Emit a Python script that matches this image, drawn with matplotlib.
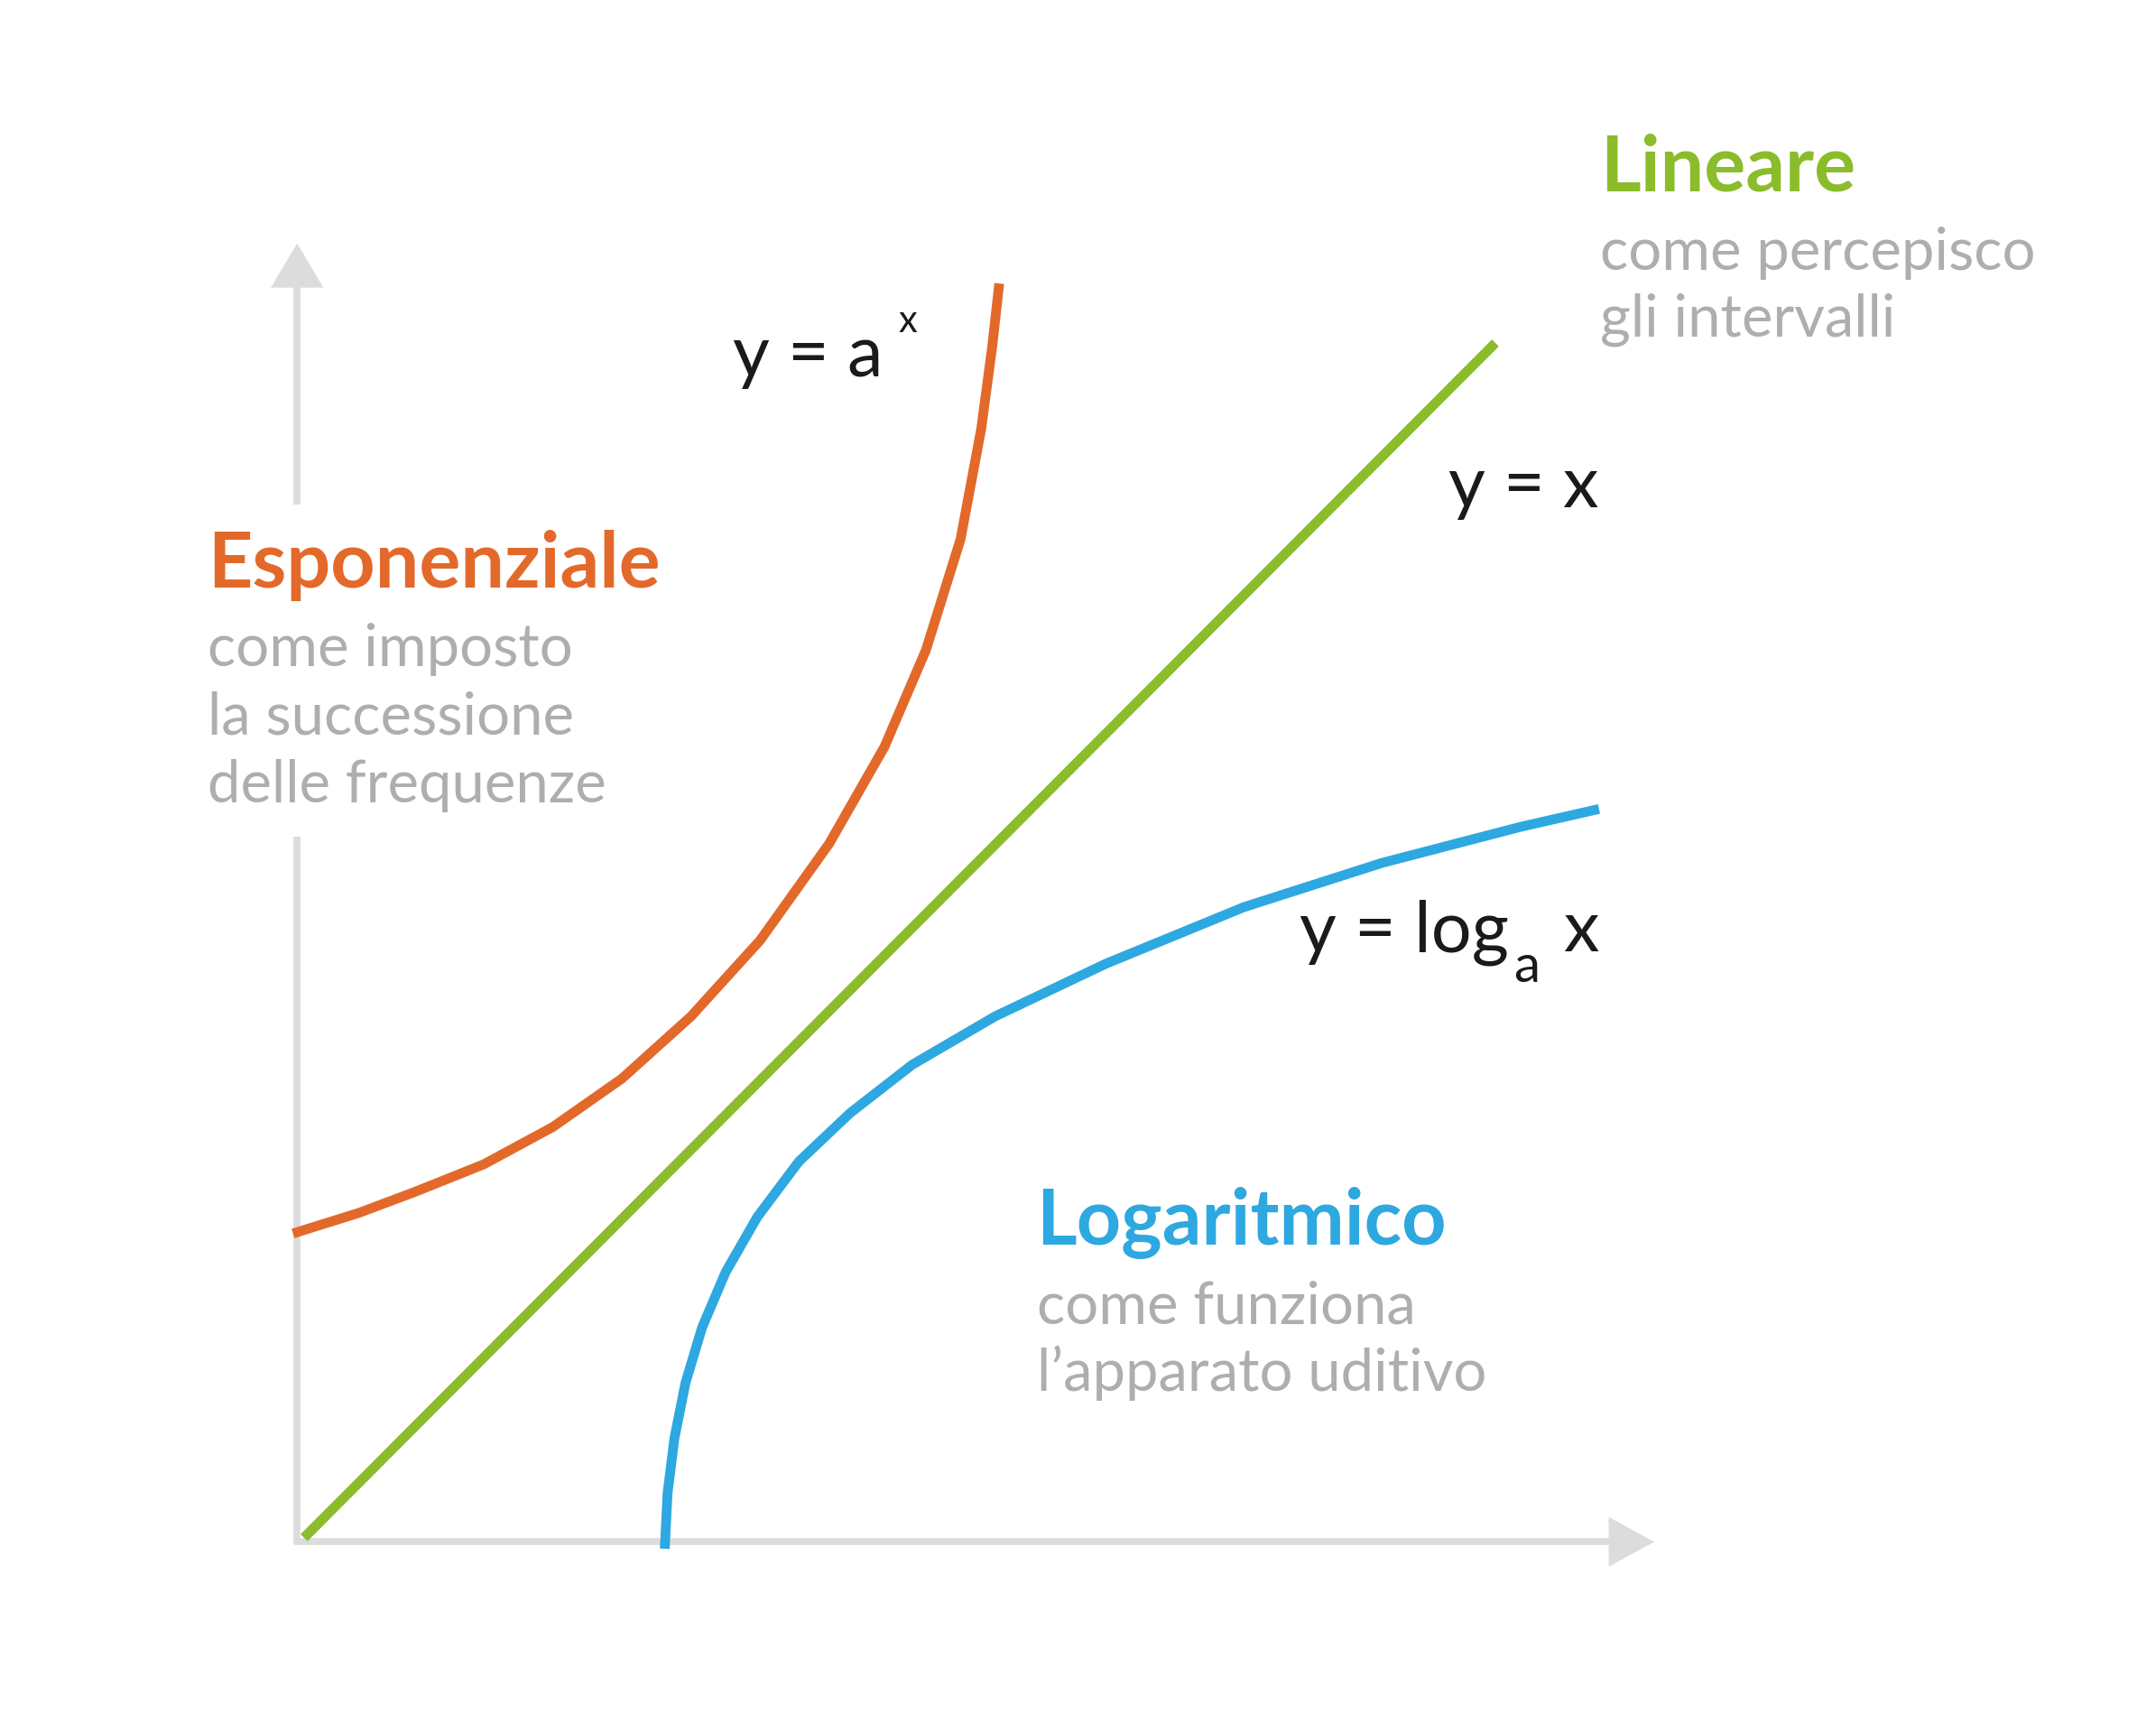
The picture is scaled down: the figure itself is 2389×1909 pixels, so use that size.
import matplotlib
matplotlib.use("Agg")
import matplotlib.pyplot as plt

plt.rcParams['font.family'] = ['Lato', 'DejaVu Sans']

# curve points (reference pixel space, y downward)
exp_x = [212, 260, 300, 350, 400, 450, 500, 550, 600, 640, 670, 695, 710, 718, 723]
exp_y = [892, 877, 862, 842, 815, 780, 735, 680, 610, 540, 470, 390, 310, 250, 205]
lin_x = [220, 1082]
lin_y = [1112, 248]
log_x = [481, 483, 488, 496, 508, 525, 548, 578, 615, 660, 720, 800, 900, 1000, 1100, 1157]
log_y = [1120, 1080, 1040, 1000, 960, 920, 880, 840, 805, 770, 735, 697, 656, 624, 598, 585]

ORANGE, GREEN, BLUE = '#e3692b', '#8bbc2b', '#2ea8e0'
GRAY_AX, GRAY_TX, BLACK = '#dcdcdc', '#aeaeae', '#1a1a1a'

fig = plt.figure(figsize=(23.89, 19.09), dpi=100)
ax = fig.add_axes([0, 0, 1, 1])
ax.set_xlim(0, 1560)
ax.set_ylim(1246, 0)
ax.axis('off')

lw_ax = 5.5
ax.plot([215, 215], [1117, 605], color=GRAY_AX, lw=lw_ax, solid_capstyle='butt')
ax.plot([215, 215], [365, 205], color=GRAY_AX, lw=lw_ax, solid_capstyle='butt')
ax.fill([196, 234, 215], [208, 208, 176], color=GRAY_AX, lw=0)
ax.plot([213, 1166], [1115, 1115], color=GRAY_AX, lw=lw_ax, solid_capstyle='butt')
ax.fill([1164, 1164, 1197], [1097, 1133, 1115], color=GRAY_AX, lw=0)

lw = 7.8
ax.plot(exp_x, exp_y, color=ORANGE, lw=lw, solid_capstyle='butt', solid_joinstyle='round')
ax.plot(lin_x, lin_y, color=GREEN, lw=lw, solid_capstyle='butt')
ax.plot(log_x, log_y, color=BLUE, lw=lw, solid_capstyle='butt', solid_joinstyle='round')

TS, SS, ES = 62, 47, 57
ax.text(150, 425, 'Esponenziale', color=ORANGE, fontsize=TS, fontweight='bold')
for i, s in enumerate(['come imposto', 'la successione', 'delle frequenze']):
    ax.text(150, 482 + 49 * i, s, color=GRAY_TX, fontsize=SS)
ax.text(1158, 138, 'Lineare', color=GREEN, fontsize=TS, fontweight='bold')
for i, s in enumerate(['come percepisco', 'gli intervalli']):
    ax.text(1158, 195 + 48 * i, s, color=GRAY_TX, fontsize=SS)
ax.text(750, 900, 'Logaritmico', color=BLUE, fontsize=TS, fontweight='bold')
for i, s in enumerate(['come funziona', 'l\u2019apparato uditivo']):
    ax.text(750, 957 + 49 * i, s, color=GRAY_TX, fontsize=SS)

ax.text(530, 272, 'y = a', color=BLACK, fontsize=ES)
ax.text(650, 240, 'x', color=BLACK, fontsize=30)
ax.text(1157, 367, 'y = x', color=BLACK, fontsize=ES, ha='right')
ax.text(1157, 688, 'x', color=BLACK, fontsize=ES, ha='right')
ax.text(1114, 710, 'a', color=BLACK, fontsize=42, ha='right')
ax.text(1092, 688, 'y = log', color=BLACK, fontsize=ES, ha='right')

fig.savefig('out.png', dpi=100)
